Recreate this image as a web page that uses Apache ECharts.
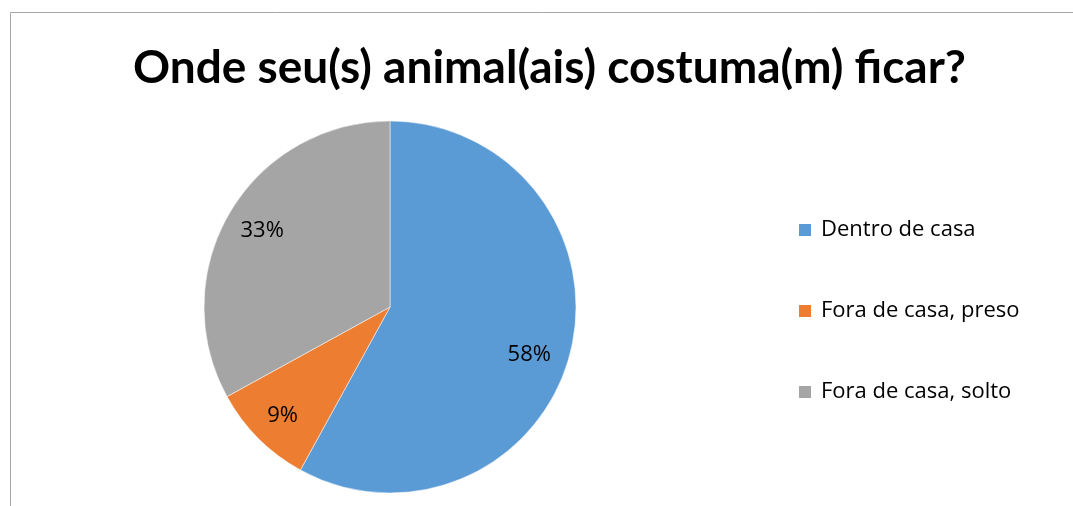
<!DOCTYPE html>
<html><head><meta charset="utf-8">
<script src="https://cdn.jsdelivr.net/npm/echarts@6/dist/echarts.min.js"></script>
<style>html,body{margin:0;padding:0;background:#fff}#c{width:1073px;height:506px}</style>
</head><body><div id="c"></div>
<script>
const categories = ['Dentro de casa', 'Fora de casa, preso', 'Fora de casa, solto'];
const values = [58, 9, 33];
const colors = ['#5b9bd5', '#ed7d31', '#a5a5a5'];
const titleText = 'Onde seu(s) animal(ais) costuma(m) ficar?';

const data = categories.map((n, i) => ({ name: n, value: values[i], itemStyle: { color: colors[i] } }));
const TFONT = 'Lato, "Open Sans", sans-serif';
const FONT = '"Open Sans", Lato, sans-serif';
const labelOffsets = [[-8, 10], [0, 1], [3, 1]];
const chart = echarts.init(document.getElementById('c'), null, { renderer: 'canvas' });
chart.setOption({
  animation: false,
  backgroundColor: '#fff',
  graphic: [{ type: 'rect', shape: { x: 10.5, y: 12.5, width: 1200, height: 600 }, style: { fill: 'none', stroke: '#a6a6a6', lineWidth: 1 }, silent: true }],
  title: { text: titleText, left: 133, top: 45, padding: 0, textStyle: { fontFamily: TFONT, fontWeight: 'bold', fontSize: 46, color: '#000' } },
  legend: {
    orient: 'vertical', left: 797, top: 217, padding: 0, itemWidth: 14, itemHeight: 14, itemGap: 55,
    icon: 'rect', data: categories,
    textStyle: { fontFamily: FONT, fontSize: 22, lineHeight: 26, color: '#000', padding: [0, 0, 0, 4] }
  },
  series: [
    { type: 'pie', center: [390, 307], radius: [0, 186], startAngle: 90, clockwise: true, data: data,
      label: { show: false }, labelLine: { show: false },
      itemStyle: { borderColor: '#fff', borderWidth: 0.5 }, emphasis: { disabled: true } },
    { type: 'pie', center: [390, 307], radius: [112, 186], startAngle: 90, clockwise: true, silent: true,
      data: categories.map((n, i) => ({ name: n, value: values[i], itemStyle: { color: 'rgba(0,0,0,0)' }, label: { offset: labelOffsets[i] } })),
      label: { show: true, position: 'inside', formatter: '{c}%', fontFamily: FONT, fontSize: 22, color: '#000' },
      labelLine: { show: false }, emphasis: { disabled: true }, legendHoverLink: false }
  ]
});
</script></body></html>
